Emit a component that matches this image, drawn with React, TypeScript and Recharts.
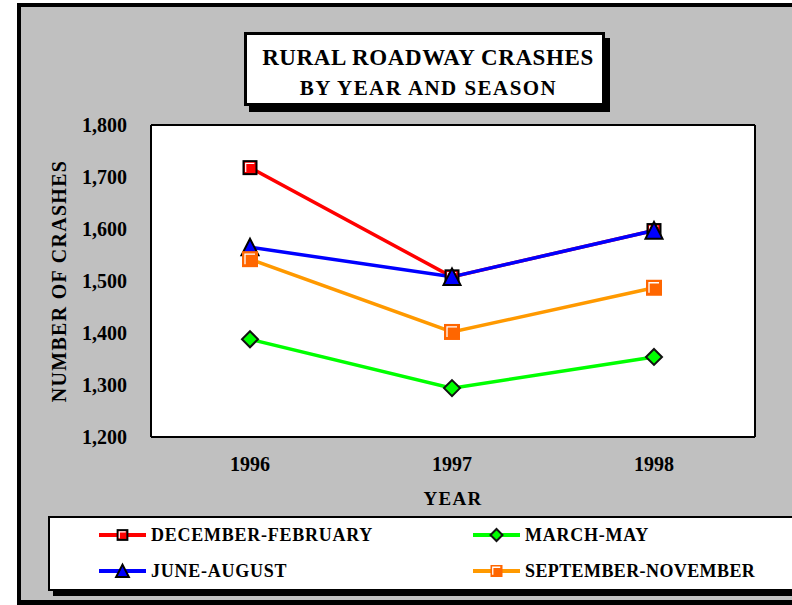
import React from 'react';
import { LineChart, Line, XAxis, YAxis, CartesianGrid } from 'recharts';

const years = ['1996', '1997', '1998'];
const decFeb = [1718, 1508, 1597];
const marMay = [1388, 1294, 1354];
const junAug = [1565, 1508, 1597];
const sepNov = [1542, 1402, 1487];
const yTicks = [1200, 1300, 1400, 1500, 1600, 1700, 1800];

const seriesNames = {
  decFeb: 'DECEMBER-FEBRUARY',
  marMay: 'MARCH-MAY',
  junAug: 'JUNE-AUGUST',
  sepNov: 'SEPTEMBER-NOVEMBER',
};

const data = years.map((year, i) => ({
  year,
  decFeb: decFeb[i],
  marMay: marMay[i],
  junAug: junAug[i],
  sepNov: sepNov[i],
}));

const FONT = "'Liberation Serif', 'Times New Roman', serif";

type MProps = { cx: number; cy: number; s?: number };

const RedSquare = ({ cx, cy, s = 1 }: MProps) => {
  const h = 6.5 * s;
  const i = 4.3 * s;
  return (
    <g>
      <rect x={cx - h} y={cy - h} width={2 * h} height={2 * h} fill="#FF0000" stroke="#000" strokeWidth={2} />
      <path d={`M ${cx - i} ${cy + i} V ${cy - i} H ${cx + i}`} stroke="#fff" strokeWidth={1.2} fill="none" />
    </g>
  );
};

const OrangeSquare = ({ cx, cy, s = 1 }: MProps) => {
  const h = 8 * s;
  const i = 5 * s;
  return (
    <g>
      <rect x={cx - h} y={cy - h} width={2 * h} height={2 * h} fill="#FF6600" />
      <path d={`M ${cx - i} ${cy + i} V ${cy - i} H ${cx + i}`} stroke="#fff" strokeWidth={1.3} fill="none" />
    </g>
  );
};

const GreenDiamond = ({ cx, cy, s = 1 }: MProps) => {
  const h = 8 * s;
  return (
    <polygon
      points={`${cx},${cy - h} ${cx + h},${cy} ${cx},${cy + h} ${cx - h},${cy}`}
      fill="#00FF00"
      stroke="#111"
      strokeWidth={2}
    />
  );
};

const BlueTriangle = ({ cx, cy, s = 1 }: MProps) => {
  const h = 8.5 * s;
  return (
    <polygon
      points={`${cx},${cy - h} ${cx + h},${cy + h * 0.95} ${cx - h},${cy + h * 0.95}`}
      fill="#0000FF"
      stroke="#000"
      strokeWidth={2}
      strokeLinejoin="miter"
    />
  );
};

const series = [
  { key: 'decFeb', color: '#FF0000', Marker: RedSquare, ls: 0.75 },
  { key: 'marMay', color: '#00FF00', Marker: GreenDiamond, ls: 0.75 },
  { key: 'junAug', color: '#0000FF', Marker: BlueTriangle, ls: 0.75 },
  { key: 'sepNov', color: '#FF9900', Marker: OrangeSquare, ls: 0.4 },
] as const;

const legendPos = [
  { left: 99, top: 525 },
  { left: 473, top: 525 },
  { left: 99, top: 561 },
  { left: 473, top: 561 },
];

const tickStyle = { fontSize: 20, fontWeight: 'bold', fill: '#000', fontFamily: FONT };

export default function App() {
  return (
    <div
      style={{
        position: 'fixed',
        left: 0,
        top: 0,
        width: 792,
        height: 605,
        overflow: 'hidden',
        background: '#fff',
        fontFamily: FONT,
      }}
    >
      <div
        style={{
          position: 'absolute',
          left: 17,
          top: 3,
          width: 800,
          height: 602,
          boxSizing: 'border-box',
          borderLeft: '4px solid #000',
          borderTop: '4px solid #000',
          borderBottom: '5px solid #000',
          background: '#C0C0C0',
        }}
      />
      <div style={{ position: 'absolute', left: 0, top: 0 }}>
        <LineChart
          width={792}
          height={605}
          data={data}
          margin={{ top: 125, right: 37, left: 20, bottom: 98 }}
        >
          <CartesianGrid
            fill="#fff"
            stroke="#000"
            strokeWidth={2}
            horizontalCoordinatesGenerator={({ offset }: any) => [offset.top, offset.top + offset.height]}
            verticalCoordinatesGenerator={({ offset }: any) => [offset.left, offset.left + offset.width]}
          />
          <XAxis
            dataKey="year"
            padding={{ left: 99, right: 101 }}
            axisLine={false}
            tickLine={false}
            tickSize={0}
            tickMargin={20}
            height={70}
            tick={tickStyle}
            label={{
              value: 'YEAR',
              position: 'insideBottom',
              offset: 2,
              style: { fontSize: 19, fontWeight: 'bold', fill: '#000', fontFamily: FONT, letterSpacing: 1.3 },
            }}
          />
          <YAxis
            domain={[1200, 1800]}
            ticks={yTicks}
            interval={0}
            axisLine={false}
            tickLine={false}
            tickSize={0}
            tickMargin={24}
            width={131}
            tick={tickStyle}
            tickFormatter={(v: number) => v.toLocaleString('en-US')}
            label={{
              value: 'NUMBER OF CRASHES',
              angle: -90,
              position: 'insideLeft',
              offset: 39,
              style: {
                textAnchor: 'middle',
                fontSize: 20,
                fontWeight: 'bold',
                fill: '#000',
                fontFamily: FONT,
                letterSpacing: 1.3,
              },
            }}
          />
          {series.map((s) => (
            <Line
              key={s.key}
              type="linear"
              dataKey={s.key}
              name={seriesNames[s.key]}
              stroke={s.color}
              strokeWidth={3.5}
              isAnimationActive={false}
              activeDot={false}
              dot={(p: any) => <s.Marker key={`${s.key}-${p.index}`} cx={p.cx} cy={p.cy} />}
            />
          ))}
        </LineChart>
      </div>

      {/* Title box */}
      <div
        style={{
          position: 'absolute',
          left: 244,
          top: 32,
          width: 361,
          height: 74,
          boxSizing: 'border-box',
          border: '3px solid #000',
          background: '#fff',
          boxShadow: '5px 6px 0 #000',
          textAlign: 'center',
          fontWeight: 'bold',
          color: '#000',
        }}
      >
        <div style={{ position: 'absolute', left: 7, right: 0, top: 9, fontSize: 23, letterSpacing: 0.6, lineHeight: '28px' }}>
          RURAL ROADWAY CRASHES
        </div>
        <div style={{ position: 'absolute', left: 8, right: 0, top: 40, fontSize: 21, letterSpacing: 1.45, lineHeight: '26px' }}>
          BY YEAR AND SEASON
        </div>
      </div>

      {/* Legend box */}
      <div
        style={{
          position: 'absolute',
          left: 48,
          top: 516,
          width: 800,
          height: 75,
          boxSizing: 'border-box',
          border: '2px solid #000',
          background: '#fff',
          boxShadow: '5px 5px 0 #000',
        }}
      />
      {series.map((s, i) => (
        <div
          key={s.key}
          style={{
            position: 'absolute',
            left: legendPos[i].left,
            top: legendPos[i].top,
            height: 20,
            display: 'flex',
            alignItems: 'center',
            whiteSpace: 'nowrap',
          }}
        >
          <svg width={47} height={20} style={{ display: 'block' }}>
            <line x1={0} y1={10} x2={47} y2={10} stroke={s.color} strokeWidth={4} />
            <s.Marker cx={23.5} cy={10} s={0.75} />
          </svg>
          <span
            style={{
              marginLeft: 5,
              fontSize: 18,
              fontWeight: 'bold',
              letterSpacing: s.ls,
              lineHeight: '20px',
              color: '#000',
            }}
          >
            {seriesNames[s.key]}
          </span>
        </div>
      ))}
    </div>
  );
}
